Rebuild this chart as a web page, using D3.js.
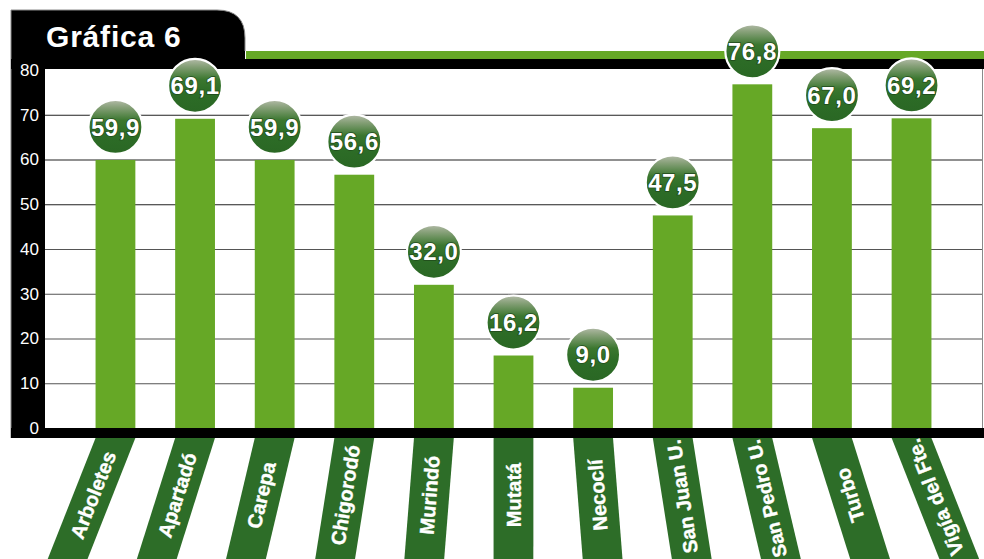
<!DOCTYPE html>
<html>
<head>
<meta charset="utf-8">
<script src="https://cdn.jsdelivr.net/npm/d3@7"></script>
<style>
  html, body { margin: 0; padding: 0; background: #fff; }
  svg { display: block; }
</style>
</head>
<body>
<svg id="chart" width="984" height="559"></svg>
<script>
// Municipios y valores
const categories = ["Arboletes", "Apartadó", "Carepa", "Chigorodó", "Murindó", "Mutatá",
                    "Necoclí", "San Juan U.", "San Pedro U.", "Turbo", "Vigía del Fte."];
const values = [59.9, 69.1, 59.9, 56.6, 32.0, 16.2, 9.0, 47.5, 76.8, 67.0, 69.2];
const valueLabels = ["59,9", "69,1", "59,9", "56,6", "32,0", "16,2", "9,0", "47,5", "76,8", "67,0", "69,2"];
const yTicks = [0, 10, 20, 30, 40, 50, 60, 70, 80];
const title = "Gráfica 6";

const W = 984, H = 559;
const plotLeft = 45, plotRight = 982, plotTop = 70, plotBottom = 428;
const barGreen = "#66a826", darkGreen = "#2d6d28";
const font = "'Liberation Sans', Arial, sans-serif";

const svg = d3.select("#chart");
const defs = svg.append("defs");

const grad = defs.append("linearGradient")
  .attr("id", "bubble").attr("x1", 0).attr("y1", 0).attr("x2", 0).attr("y2", 1);
[[0, "#b3bba8"], [0.14, "#86a078"], [0.38, "#3b772f"], [0.6, "#2d6d27"], [1, "#2a6724"]]
  .forEach(([o, c]) => grad.append("stop").attr("offset", o).attr("stop-color", c));

const x = d3.scaleBand().domain(categories)
  .range([plotLeft, plotRight]).paddingInner(0.5).paddingOuter(0.635);
const y = d3.scaleLinear().domain([0, 80]).range([plotBottom, plotTop]);

// Bandas inclinadas de las etiquetas, abiertas en abanico hacia abajo
const fanX = 514, bandTop = 438, fanSlope = 0.12 / 121;
const textTop = 440, textBottom = 557, labelSize = 20;
const labelsG = svg.append("g");
categories.forEach(c => {
  const cx = x(c) + x.bandwidth() / 2;
  const hw = x.bandwidth() / 2;
  const yb = H + 20, yt = bandTop - 5;
  const sh = v => (v - bandTop) * (cx - fanX) * fanSlope;
  labelsG.append("path")
    .attr("d", `M${cx - hw + sh(yt)},${yt} L${cx + hw + sh(yt)},${yt} L${cx + hw + sh(yb)},${yb} L${cx - hw + sh(yb)},${yb} Z`)
    .attr("fill", darkGreen);
  const thetaRad = Math.atan((cx - fanX) * fanSlope);
  const t = labelsG.append("text")
    .attr("text-anchor", "middle")
    .attr("dy", "0.36em")
    .attr("fill", "#fff").attr("stroke", "#fff").attr("stroke-width", 0.4)
    .style("font-family", font)
    .style("font-weight", "bold")
    .style("font-size", labelSize + "px")
    .text(c);
  // keep the label inside the visible part of its band
  const avail = (textBottom - textTop) / Math.cos(thetaRad);
  const len = t.node().getComputedTextLength();
  if (len > avail) t.style("font-size", (labelSize * avail / len).toFixed(2) + "px");
  const half = Math.min(len, avail) * Math.cos(thetaRad) / 2;
  const ty = Math.min(Math.max(495, textTop + half), textBottom - half);
  t.attr("transform", `translate(${cx + sh(ty)},${ty}) rotate(${-90 - thetaRad * 180 / Math.PI})`);
});

// Área de trazado
svg.append("rect").attr("x", plotLeft).attr("y", plotTop - 1)
  .attr("width", plotRight - plotLeft).attr("height", plotBottom - plotTop + 1).attr("fill", "#fff");

// Marco negro: columna izquierda, pestaña del título, franjas superior e inferior
const frame = svg.append("g");
frame.append("path")
  .attr("d", `M11,${bandTop} L11,10 L217,10 Q245,10 245,38 L245,69 L${plotLeft},69 L${plotLeft},${plotBottom} L11,${plotBottom} Z`)
  .attr("fill", "#000");
frame.append("path")
  .attr("d", "M11,438 L11,10 L217,10 Q245,10 245,38 L245,51")
  .attr("fill", "none").attr("stroke", "#8a8a8a").attr("stroke-width", 1);
frame.append("rect").attr("x", 246).attr("y", 51).attr("width", W - 246).attr("height", 8).attr("fill", barGreen);
frame.append("rect").attr("x", 11).attr("y", 59).attr("width", W - 11).attr("height", 10).attr("fill", "#000");
frame.append("rect").attr("x", 11).attr("y", plotBottom).attr("width", W - 11).attr("height", 10).attr("fill", "#000");
frame.append("line").attr("x1", plotRight + 0.5).attr("x2", plotRight + 0.5)
  .attr("y1", 69).attr("y2", plotBottom).attr("stroke", "#8a8a8a");

// Eje Y y líneas de cuadrícula
const axis = svg.append("g").attr("transform", `translate(${plotLeft},0)`)
  .call(d3.axisLeft(y).tickValues(yTicks).tickSize(-(plotRight - plotLeft)).tickPadding(6)
        .tickFormat(d3.format("d")));
axis.select(".domain").remove();
axis.selectAll(".tick line").attr("stroke", d => d >= 50 ? "#222" : "#555").attr("stroke-width", 1.2)
  .filter(d => d === 0 || d === 80).remove();
axis.selectAll(".tick text").attr("fill", "#fff")
  .style("font-family", font).style("font-size", "17px");

// Barras
svg.append("g").selectAll("rect").data(categories).join("rect")
  .attr("x", d => x(d)).attr("width", x.bandwidth())
  .attr("y", (d, i) => y(values[i]))
  .attr("height", (d, i) => y(0) - y(values[i]))
  .attr("fill", barGreen);

// Título
svg.append("text").attr("x", 46).attr("y", 47).text(title)
  .attr("fill", "#fff")
  .style("font-family", font)
  .style("font-weight", "bold").style("font-size", "30px").style("letter-spacing", "0.8px");

// Burbujas con el valor
const bub = svg.append("g").selectAll("g").data(categories).join("g")
  .attr("transform", (d, i) => `translate(${x(d) + x.bandwidth() / 2},${y(values[i]) - 33})`);
bub.append("circle").attr("r", 27).attr("fill", "url(#bubble)")
  .attr("stroke", "#fff").attr("stroke-width", 2.2);
bub.append("text").text((d, i) => valueLabels[i])
  .attr("text-anchor", "middle").attr("dy", "0.36em")
  .attr("fill", "#fff").attr("stroke", "#1e4a1a").attr("stroke-width", 1.4)
  .style("paint-order", "stroke")
  .style("font-family", font)
  .style("font-weight", "bold").style("font-size", "24px").style("letter-spacing", "0.6px");
</script>
</body>
</html>
